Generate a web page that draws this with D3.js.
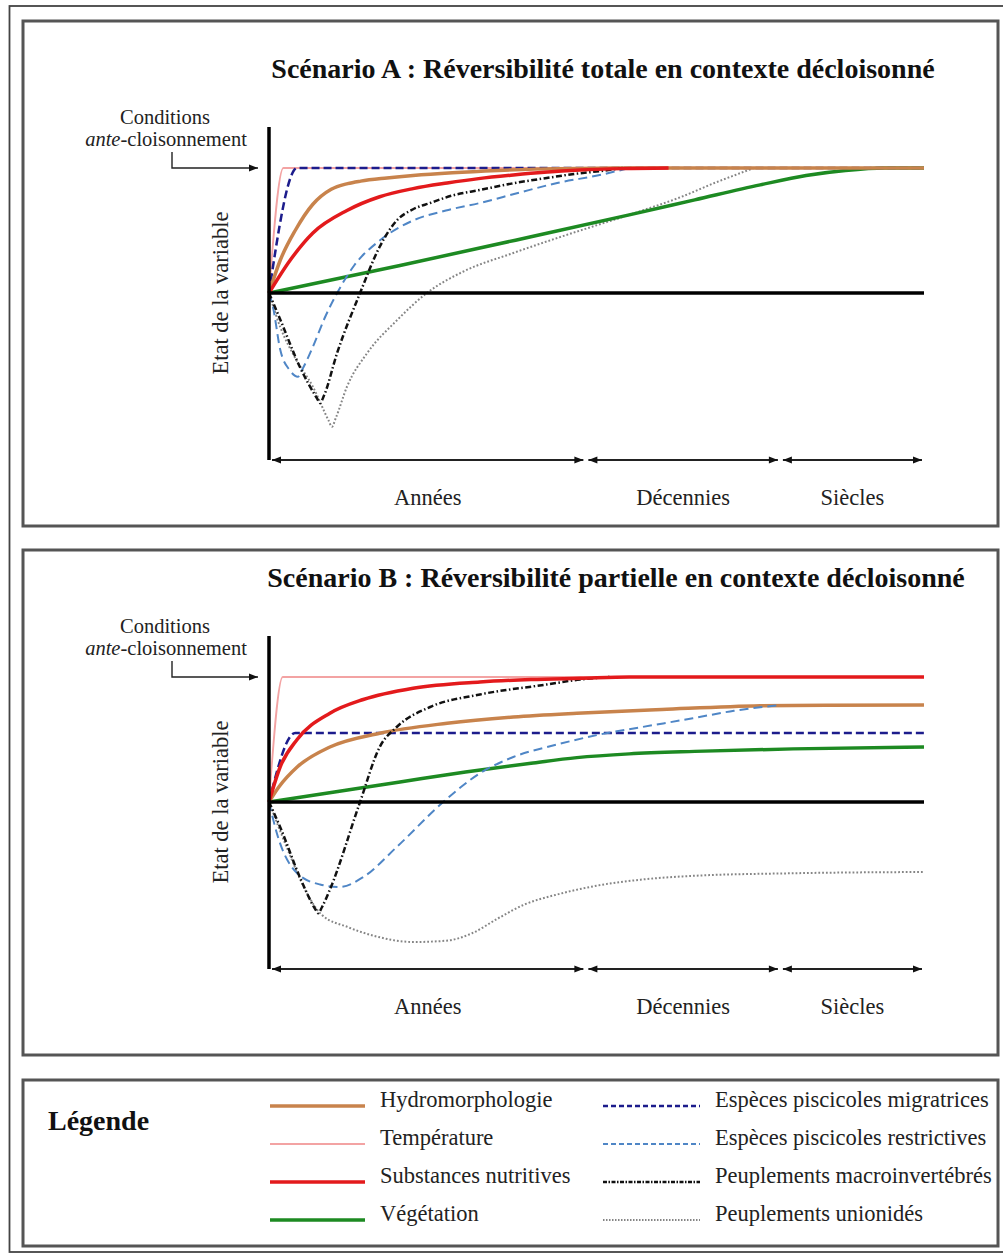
<!DOCTYPE html>
<html>
<head>
<meta charset="utf-8">
<script src="https://cdn.jsdelivr.net/npm/d3@7"></script>
<style>
  body { margin: 0; background: #fff; }
  svg { display: block; font-family: "Liberation Serif", "Times New Roman", serif; }
</style>
</head>
<body>
<svg id="chart" width="1003" height="1256"></svg>
<script>
// ---- data: time in arbitrary units (0..100), state: 1 = ante conditions, 0 = current state
const periods = ["Années", "Décennies", "Siècles"];
const periodBounds = [0, 48.3, 78, 100];

const seriesNames = [
    "Hydromorphologie", "Température", "Substances nutritives", "Végétation",
    "Espèces piscicoles migratrices", "Espèces piscicoles restrictives",
    "Peuplements macroinvertébrés", "Peuplements unionidés"
];

// Scénario A
const tempA = [[0, 0], [2.2, 1], [100, 1]];
const migrA = [[0, 0], [4.3, 1], [100, 1]];
const hydroA = [[0, 0], [1.7, 0.26], [4, 0.5], [6.7, 0.71], [9.5, 0.83], [12, 0.875], [14, 0.895], [18, 0.92], [22, 0.94], [28, 0.962], [35, 0.98], [44, 0.995], [55, 1], [100, 1]];
const nutriA = [[0, 0], [3.2, 0.26], [6.7, 0.48], [11.9, 0.66], [16.9, 0.77], [22, 0.835], [27.2, 0.88], [32, 0.915], [37.3, 0.944], [42, 0.966], [47.5, 0.984], [54, 0.995], [61, 1]];
const vegA = [[0, 0], [20, 0.22], [40, 0.45], [55, 0.625], [65, 0.745], [75, 0.865], [82, 0.94], [88, 0.98], [94, 1], [100, 1]];
const restrA = [[0, 0], [0.6, -0.11], [1.7, -0.45], [3.2, -0.62], [4.4, -0.67], [5.2, -0.6], [6.7, -0.43], [8.5, -0.2], [10.4, 0], [13, 0.22], [16.9, 0.42], [22, 0.58], [27, 0.66], [32.2, 0.72], [38, 0.8], [44, 0.88], [50.5, 0.944], [55, 1]];
const macroA = [[0, 0], [1.7, -0.21], [4.7, -0.59], [7.3, -0.84], [7.8, -0.88], [8.4, -0.82], [10.4, -0.48], [13.9, 0], [16.9, 0.37], [19.5, 0.58], [22, 0.67], [24.6, 0.72], [28, 0.78], [32.2, 0.824], [37, 0.875], [42.4, 0.92], [47, 0.955], [50.5, 0.975], [54, 1]];
const unioA = [[0, 0], [1.7, -0.27], [4, -0.52], [6.7, -0.75], [9.1, -1.02], [9.6, -1.07], [10.2, -1.0], [11.9, -0.75], [15, -0.48], [19.5, -0.22], [24.1, 0], [29.6, 0.17], [37.3, 0.32], [44, 0.44], [50.5, 0.55], [57, 0.66], [63, 0.77], [68, 0.88], [72.5, 0.97], [74, 1]];

// Scénario B
const tempB = [[0, 0], [2.1, 1], [100, 1]];
const migrB = [[0, 0], [4, 0.552], [100, 0.552]];
const nutriB = [[0, 0], [1.7, 0.28], [4.3, 0.5], [9.3, 0.71], [14.4, 0.82], [22, 0.91], [32.2, 0.96], [40, 0.98], [47.5, 0.99], [55, 1], [100, 1]];
const hydroB = [[0, 0], [1.5, 0.12], [4.3, 0.28], [9.3, 0.44], [16.9, 0.55], [27.2, 0.63], [37.3, 0.68], [47, 0.71], [60, 0.74], [75, 0.77], [85, 0.775], [100, 0.776]];
const vegB = [[0, 0], [10, 0.08], [20, 0.16], [30, 0.24], [40, 0.31], [47, 0.355], [55, 0.385], [65, 0.405], [80, 0.425], [100, 0.44]];
const restrB = [[0, 0], [1.2, -0.25], [4.3, -0.57], [7.8, -0.66], [10.8, -0.68], [14.4, -0.6], [19.5, -0.36], [26.6, 0], [32.2, 0.23], [37.3, 0.36], [44, 0.46], [50.5, 0.54], [57, 0.6], [64.7, 0.67], [71, 0.73], [78, 0.775]];
const macroB = [[0, 0], [1.7, -0.2], [4.7, -0.6], [7.1, -0.86], [7.5, -0.89], [8.1, -0.84], [9.3, -0.7], [13.9, 0], [16.9, 0.44], [19.5, 0.6], [24.6, 0.76], [32.2, 0.86], [42.4, 0.94], [47.5, 0.98], [52, 1]];
const unioB = [[0, 0], [3, -0.4], [6, -0.75], [8, -0.9], [12, -1.0], [16, -1.07], [22, -1.12], [27, -1.11], [31, -1.05], [35, -0.93], [39, -0.82], [44, -0.74], [50, -0.67], [57, -0.62], [65, -0.59], [80, -0.57], [100, -0.56]];

// line styles per variable
const styles = {
    "Hydromorphologie": { color: "#c8834c", width: 3.5, dash: null, legendDash: null },
    "Température": { color: "#f3a3a3", width: 1.8, dash: null, legendDash: null },
    "Substances nutritives": { color: "#e31a1c", width: 3.5, dash: null, legendDash: null },
    "Végétation": { color: "#1d8a22", width: 3.5, dash: null, legendDash: null },
    "Espèces piscicoles migratrices": { color: "#1c1c8c", width: 2.5, dash: "8,4", legendDash: "5,3" },
    "Espèces piscicoles restrictives": { color: "#4f86c6", width: 2, dash: "9,5", legendDash: "5,3" },
    "Peuplements macroinvertébrés": { color: "#111", width: 2.5, dash: "6,2.5,1.5,2.5", legendDash: "4,1.5,1.5,1.5" },
    "Peuplements unionidés": { color: "#858585", width: 2, dash: "1.8,2", legendDash: "1.5,1.5" }
};

const panels = [
    {
        title: "Scénario A : Réversibilité totale en contexte décloisonné",
        top: 21, shift: 0, titleX: 603,
        series: {
            "Température": tempA, "Peuplements unionidés": unioA, "Végétation": vegA,
            "Espèces piscicoles migratrices": migrA, "Hydromorphologie": hydroA,
            "Espèces piscicoles restrictives": restrA, "Peuplements macroinvertébrés": macroA,
            "Substances nutritives": nutriA
        }
    },
    {
        title: "Scénario B : Réversibilité partielle en contexte décloisonné",
        top: 550, shift: -20, titleX: 616,
        series: {
            "Température": tempB, "Peuplements unionidés": unioB, "Végétation": vegB,
            "Espèces piscicoles migratrices": migrB, "Hydromorphologie": hydroB,
            "Espèces piscicoles restrictives": restrB, "Peuplements macroinvertébrés": macroB,
            "Substances nutritives": nutriB
        }
    }
];

const svg = d3.select("#chart");

// arrow markers
const defs = svg.append("defs");
defs.append("marker")
    .attr("id", "head")
    .attr("viewBox", "0 -5 10 10")
    .attr("refX", 10).attr("refY", 0)
    .attr("markerUnits", "userSpaceOnUse")
    .attr("markerWidth", 11).attr("markerHeight", 9)
    .attr("orient", "auto-start-reverse")
    .append("path").attr("d", "M0,-4L10,0L0,4Z").attr("fill", "#111");

// outer frame
svg.append("rect")
    .attr("x", 9.5).attr("y", 6)
    .attr("width", 1005).attr("height", 1246)
    .attr("fill", "none").attr("stroke", "#444").attr("stroke-width", 1.8);

const x = d3.scaleLinear().domain([0, 100]).range([269, 924]);

panels.forEach(function (p) {
    const frame = svg.append("g").attr("transform", "translate(0," + p.top + ")");

    // panel frame
    frame.append("rect")
        .attr("x", 23).attr("y", 0).attr("width", 975).attr("height", 505)
        .attr("fill", "none").attr("stroke", "#555").attr("stroke-width", 3);

    const g = frame.append("g").attr("transform", "translate(0," + p.shift + ")");

    g.append("text")
        .attr("x", p.titleX).attr("y", 57)
        .attr("text-anchor", "middle")
        .attr("font-weight", "bold")
        .attr("font-size", 28)
        .attr("fill", "#111")
        .text(p.title);

    const y = d3.scaleLinear().domain([-1.336, 1.328]).range([439, 106]);

    // "Conditions ante-cloisonnement" marker
    g.append("text")
        .attr("x", 165).attr("y", 103)
        .attr("text-anchor", "middle").attr("font-size", 20.5).attr("fill", "#222")
        .text("Conditions");
    const ante = g.append("text")
        .attr("x", 166).attr("y", 125)
        .attr("text-anchor", "middle").attr("font-size", 20.5).attr("fill", "#222");
    ante.append("tspan").attr("font-style", "italic").text("ante");
    ante.append("tspan").text("-cloisonnement");

    g.append("path")
        .attr("d", d3.line()([[172, 131], [172, y(1)], [258, y(1)]]))
        .attr("fill", "none").attr("stroke", "#222").attr("stroke-width", 1.4)
        .attr("marker-end", "url(#head)");

    // y axis label
    g.append("text")
        .attr("transform", "translate(228," + y(0) + ") rotate(-90)")
        .attr("text-anchor", "middle").attr("font-size", 22.5).attr("fill", "#222")
        .text("Etat de la variable");

    // curves
    const line = d3.line()
        .x(d => x(d[0]))
        .y(d => y(d[1]))
        .curve(d3.curveMonotoneX);

    Object.keys(p.series).forEach(function (name) {
        const s = styles[name];
        g.append("path")
            .datum(p.series[name])
            .attr("d", line)
            .attr("fill", "none")
            .attr("stroke", s.color)
            .attr("stroke-width", s.width)
            .attr("stroke-dasharray", s.dash)
            .attr("stroke-linejoin", "round");
    });

    // baseline (current state) and vertical axis
    g.append("line")
        .attr("x1", x(0)).attr("x2", x(100))
        .attr("y1", y(0)).attr("y2", y(0))
        .attr("stroke", "#000").attr("stroke-width", 3.5);
    g.append("line")
        .attr("x1", x(0)).attr("x2", x(0))
        .attr("y1", y(1.328)).attr("y2", y(-1.336))
        .attr("stroke", "#000").attr("stroke-width", 3.5);

    // time periods
    const arrowY = y(-1.336);
    periods.forEach(function (label, i) {
        const a = x(periodBounds[i]) + 3;
        const b = x(periodBounds[i + 1]) - 2;
        g.append("line")
            .attr("x1", a).attr("x2", b)
            .attr("y1", arrowY).attr("y2", arrowY)
            .attr("stroke", "#222").attr("stroke-width", 2)
            .attr("marker-start", "url(#head)")
            .attr("marker-end", "url(#head)");
        g.append("text")
            .attr("x", (a + b) / 2).attr("y", arrowY + 45)
            .attr("text-anchor", "middle").attr("font-size", 22.5).attr("fill", "#222")
            .text(label);
    });
});

// legend
const lg = svg.append("g").attr("transform", "translate(0,1080)");
lg.append("rect")
    .attr("x", 23).attr("y", 0).attr("width", 975).attr("height", 166)
    .attr("fill", "none").attr("stroke", "#555").attr("stroke-width", 3);
lg.append("text")
    .attr("x", 48).attr("y", 50)
    .attr("font-size", 28).attr("font-weight", "bold").attr("fill", "#111")
    .text("Légende");

const rowY = d3.scaleLinear().domain([0, 3]).range([26, 140]);
seriesNames.forEach(function (name, i) {
    const col = Math.floor(i / 4), row = i % 4;
    const x1 = col === 0 ? 270 : 603;
    const x2 = col === 0 ? 365 : 700;
    const s = styles[name];
    lg.append("line")
        .attr("x1", x1).attr("x2", x2)
        .attr("y1", rowY(row)).attr("y2", rowY(row))
        .attr("stroke", s.color)
        .attr("stroke-width", s.width)
        .attr("stroke-dasharray", s.legendDash);
    lg.append("text")
        .attr("x", x2 + 15).attr("y", rowY(row) + 1)
        .attr("font-size", 22.5).attr("fill", "#222")
        .text(name);
});
</script>
</body>
</html>
